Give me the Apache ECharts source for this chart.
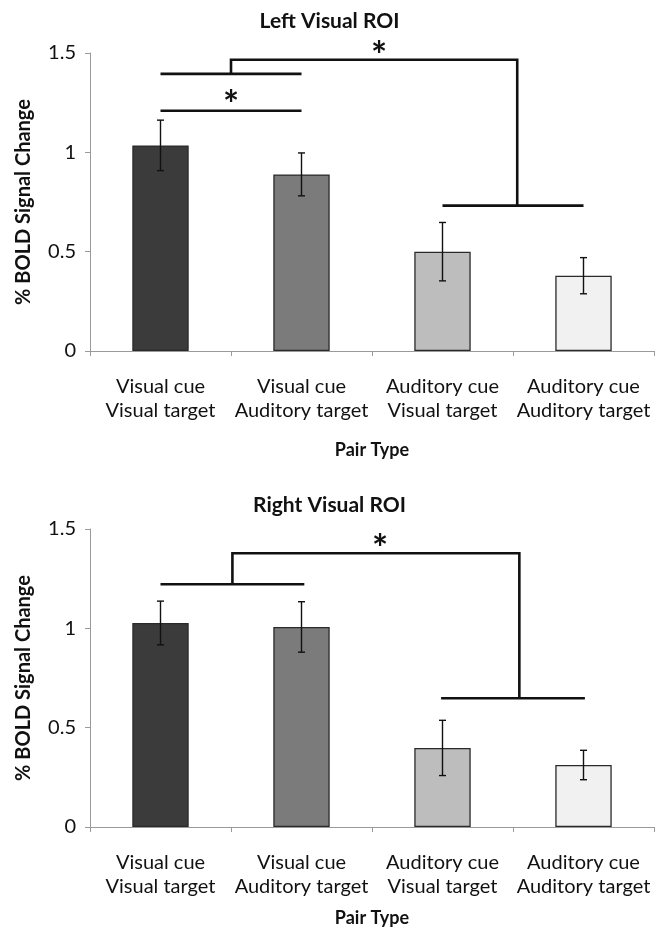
<!DOCTYPE html>
<html>
<head>
<meta charset="utf-8">
<script src="https://cdn.jsdelivr.net/npm/echarts@6/dist/echarts.min.js"></script>
<style>
  html, body { margin: 0; padding: 0; background: #fff; }
  #chart { width: 659px; height: 934px; }
</style>
</head>
<body>
<div id="chart"></div>
<script>
// Pair types on the x axis
const categories = [
  'Visual cue\nVisual target',
  'Visual cue\nAuditory target',
  'Auditory cue\nVisual target',
  'Auditory cue\nAuditory target'
];
const barColors = ['#3b3b3b', '#7b7b7b', '#bdbdbd', '#f1f1f1'];

// % BOLD signal change (mean and standard error) per ROI
const leftMeans = [1.035, 0.889, 0.500, 0.379];
const leftErrors = [0.127, 0.108, 0.147, 0.091];
const rightMeans = [1.027, 1.007, 0.398, 0.312];
const rightErrors = [0.110, 0.127, 0.139, 0.074];

const yMin = 0, yMax = 1.5, yStep = 0.5;

// Significance brackets as polylines in [category position, % change] units
const leftBrackets = [
  [[0, 1.395], [1, 1.395]],
  [[0, 1.209], [1, 1.209]],
  [[0.5, 1.395], [0.5, 1.466], [2.53, 1.466], [2.53, 0.732]],
  [[2, 0.732], [3, 0.732]]
];
const leftStars = [[0.5, 1.278], [1.55, 1.525]];

const rightBrackets = [
  [[0, 1.222], [1.02, 1.222]],
  [[0.51, 1.222], [0.51, 1.378], [2.545, 1.378], [2.545, 0.648]],
  [[1.99, 0.648], [3.01, 0.648]]
];
const rightStars = [[1.557, 1.443]];

const FONT = 'Lato';
const chart = echarts.init(document.getElementById('chart'), null, { renderer: 'canvas' });

function categoryAxis(gridIndex, nameGap) {
  return {
    type: 'category', gridIndex, data: categories,
    axisLine: { lineStyle: { color: '#9a9a9a', width: 1 } },
    axisTick: { show: true, length: 5, lineStyle: { color: '#9a9a9a' } },
    axisLabel: { interval: 0, color: '#111', fontFamily: FONT, fontSize: 20, lineHeight: 24, margin: 24 },
    name: 'Pair Type', nameLocation: 'middle', nameGap,
    nameTextStyle: { color: '#111', fontFamily: FONT, fontSize: 18, fontWeight: 'bold' }
  };
}
function overlayAxis(gridIndex) {
  return { type: 'value', gridIndex, min: -0.5, max: 3.5, show: false };
}
function valueAxis(gridIndex) {
  return {
    type: 'value', gridIndex, min: yMin, max: yMax, interval: yStep,
    axisLine: { show: true, onZero: false, lineStyle: { color: '#9a9a9a', width: 1 } },
    axisTick: { show: true, length: 5, lineStyle: { color: '#9a9a9a' } },
    splitLine: { show: false },
    axisLabel: { color: '#111', fontFamily: FONT, fontSize: 20, margin: 14 },
    name: '% BOLD Signal Change', nameLocation: 'middle', nameGap: 56, nameRotate: 90,
    nameTextStyle: { color: '#111', fontFamily: FONT, fontSize: 20, fontWeight: 'bold' }
  };
}

function barSeries(means, gridIdx) {
  return {
    type: 'bar', xAxisIndex: gridIdx * 2, yAxisIndex: gridIdx, barWidth: '40%',
    data: means.map((v, i) => ({
      value: v,
      itemStyle: { color: barColors[i], borderColor: '#2a2a2a', borderWidth: 1.3 }
    })),
    silent: true, z: 2
  };
}

function errorSeries(means, errors, gridIdx) {
  return {
    type: 'custom', xAxisIndex: gridIdx * 2, yAxisIndex: gridIdx, z: 3, silent: true,
    data: means.map((m, i) => [i, m - errors[i], m + errors[i]]),
    renderItem(params, api) {
      const lo = api.coord([api.value(0), api.value(1)]);
      const hi = api.coord([api.value(0), api.value(2)]);
      const cap = 3.5;
      const style = { stroke: '#111', lineWidth: 1.4 };
      return {
        type: 'group',
        children: [
          { type: 'line', shape: { x1: hi[0], y1: hi[1], x2: lo[0], y2: lo[1] }, style },
          { type: 'line', shape: { x1: hi[0] - cap, y1: hi[1], x2: hi[0] + cap, y2: hi[1] }, style },
          { type: 'line', shape: { x1: lo[0] - cap, y1: lo[1], x2: lo[0] + cap, y2: lo[1] }, style }
        ]
      };
    }
  };
}

function bracketSeries(brackets, gridIdx) {
  return {
    type: 'custom', xAxisIndex: gridIdx * 2 + 1, yAxisIndex: gridIdx, z: 4, silent: true,
    data: brackets.map((b, i) => [i]),
    renderItem(params, api) {
      const pts = brackets[params.dataIndex].map(p => api.coord(p));
      return {
        type: 'polyline',
        shape: { points: pts },
        style: { stroke: '#111', lineWidth: 2.6, fill: null, lineJoin: 'miter' }
      };
    }
  };
}

function starSeries(stars, gridIdx) {
  return {
    type: 'custom', xAxisIndex: gridIdx * 2 + 1, yAxisIndex: gridIdx, z: 4, silent: true,
    data: stars,
    renderItem(params, api) {
      const p = api.coord([api.value(0), api.value(1)]);
      // the asterisk glyph sits high in its box, so drop it to centre on the point
      return {
        type: 'text',
        style: {
          text: '*', x: p[0], y: p[1] + 9, align: 'center', verticalAlign: 'middle',
          font: 'bold 38px ' + FONT, fill: '#111'
        }
      };
    }
  };
}

chart.setOption({
  animation: false,
  backgroundColor: '#fff',
  textStyle: { fontFamily: FONT },
  title: [
    { text: 'Left Visual ROI', left: 'center', top: 6,
      textStyle: { fontFamily: FONT, fontSize: 21, fontWeight: 'bold', color: '#111' } },
    { text: 'Right Visual ROI', left: 'center', top: 490,
      textStyle: { fontFamily: FONT, fontSize: 21, fontWeight: 'bold', color: '#111' } }
  ],
  grid: [
    { left: 90, right: 5, top: 53, height: 298 },
    { left: 90, right: 5, top: 529, height: 298 }
  ],
  xAxis: [categoryAxis(0, 90), overlayAxis(0), categoryAxis(1, 82), overlayAxis(1)],
  yAxis: [valueAxis(0), valueAxis(1)],
  series: [
    barSeries(leftMeans, 0),
    errorSeries(leftMeans, leftErrors, 0),
    bracketSeries(leftBrackets, 0),
    starSeries(leftStars, 0),
    barSeries(rightMeans, 1),
    errorSeries(rightMeans, rightErrors, 1),
    bracketSeries(rightBrackets, 1),
    starSeries(rightStars, 1)
  ]
});
</script>
</body>
</html>
